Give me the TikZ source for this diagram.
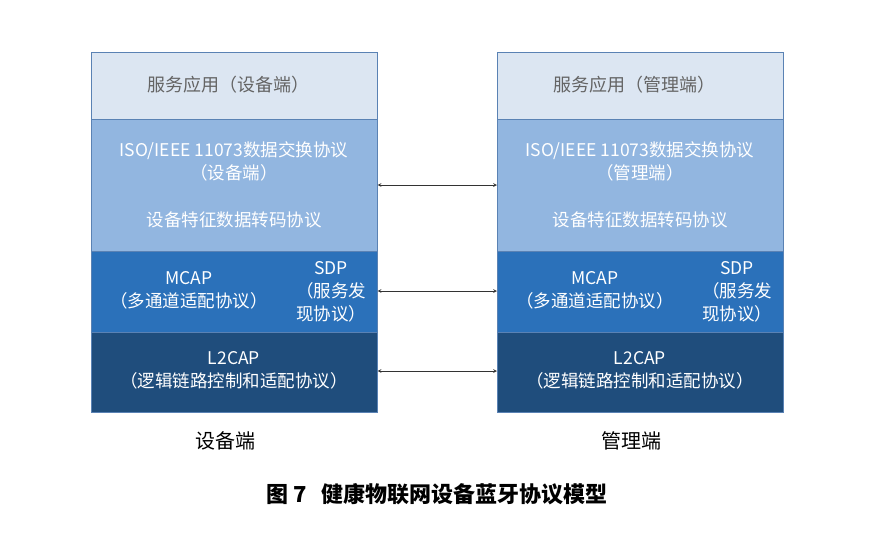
\documentclass[tikz,border=0pt]{standalone}
\usepackage{fontspec}
\setmainfont{Noto Sans CJK SC}
\definecolor{c1}{RGB}{220,230,242}
\definecolor{c2}{RGB}{146,182,224}
\definecolor{c3}{RGB}{43,113,186}
\definecolor{c4}{RGB}{31,77,124}
\definecolor{bd}{RGB}{90,130,180}
\definecolor{tg}{RGB}{100,100,100}
\begin{document}
\begin{tikzpicture}[x=1pt,y=-1pt,
  lay/.style={draw=bd,line width=0.6pt,inner sep=0pt,minimum width=286pt,anchor=north west},
  wt/.style={text=white,font=\fontsize{17.5}{23}\selectfont,align=center,inner sep=0pt},
  arr/.style={<->,>=stealth,line width=0.7pt,black!80},
  lbl/.style={font=\fontsize{20}{24}\selectfont}]
\useasboundingbox[fill=white] (0,0) rectangle (878,558);
\foreach \x/\s/\n in {91/设备端/L,497/管理端/R}{
  \node[lay,fill=c1,minimum height=67pt] (\n1) at (\x,52) {};
  \node[lay,fill=c2,minimum height=132pt] (\n2) at (\x,119) {};
  \node[lay,fill=c3,minimum height=81pt] (\n3) at (\x,251) {};
  \node[lay,fill=c4,minimum height=80pt] (\n4) at (\x,332) {};
  \node[text=tg,font=\fontsize{18}{22}\selectfont] (\n t1) at (\x+137,85) {服务应用（\s）};
  \node[wt] (\n t2) at (\x+143,161) {ISO/IEEE 11073数据交换协议\\（\s）};
  \node[wt] (\n t3) at (\x+143,220) {设备特征数据转码协议};
  \node[wt] (\n t4) at (\x+98,290) {MCAP\\（多通道适配协议）};
  \node[wt] (\n t5) at (\x+240,292) {SDP\\（服务发\\现协议）};
  \node[wt] (\n t6) at (\x+143,370) {L2CAP\\（逻辑链路控制和适配协议）};
  \node[lbl] (\n l) at (\x+134,441) {\s};
}
\coordinate (a1) at (379,185); \coordinate (b1) at (495,185);
\coordinate (a2) at (379,291); \coordinate (b2) at (495,291);
\coordinate (a3) at (379,371); \coordinate (b3) at (495,371);
\draw[arr] (L2.east|-a1) -- (R2.west|-b1);
\draw[arr] (L3.east|-a2) -- (R3.west|-b2);
\draw[arr] (L4.east|-a3) -- (R4.west|-b3);
\node[font=\bfseries\fontsize{22}{26}\selectfont] (cap) at (437,494) {图 7\ \ \ 健康物联网设备蓝牙协议模型};
\end{tikzpicture}
\end{document}
